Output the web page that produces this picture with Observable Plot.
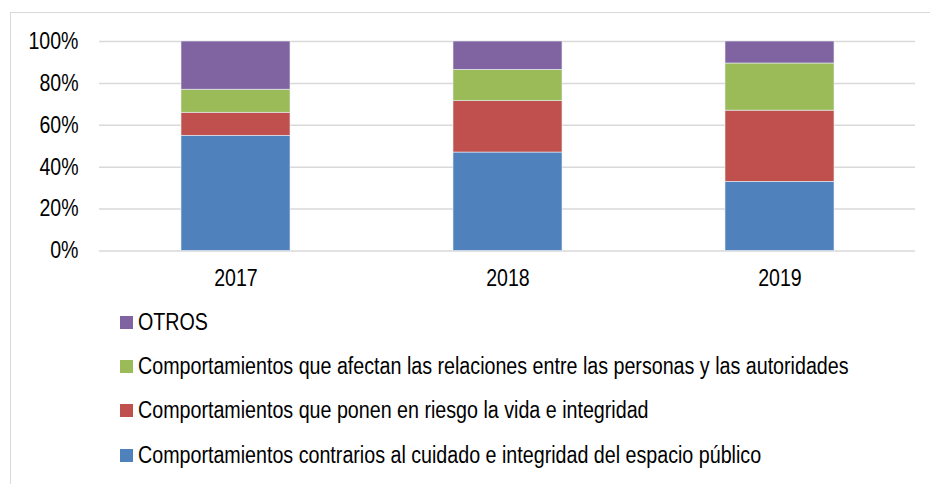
<!DOCTYPE html>
<html>
<head>
<meta charset="utf-8">
<script src="https://cdn.jsdelivr.net/npm/d3@7"></script>
<script src="https://cdn.jsdelivr.net/npm/@observablehq/plot@0.6"></script>
<style>
  html, body { margin: 0; padding: 0; background: #fff; }
  #wrap { position: relative; width: 930px; height: 484px; overflow: hidden; font-family: "Liberation Sans", Arial, sans-serif; }
  #frame { position: absolute; left: 10px; top: 12px; width: 940px; height: 490px; border: 1.5px solid #d9d9d9; box-sizing: border-box; }
  #chart { position: absolute; left: 0; top: 0; }
  #legend { position: absolute; left: 120px; top: 300px; font-size: 23px; color: #000; white-space: nowrap; }
  .item { display: flex; align-items: center; height: 44.4px; }
  .sw { width: 13px; height: 13px; margin-right: 5px; flex: none; }
  .lt { display: inline-block; transform: scaleX(0.855); transform-origin: left center; }
</style>
</head>
<body>
<div id="wrap">
  <div id="frame"></div>
  <div id="chart"></div>
  <div id="legend"></div>
</div>
<script>
const years = ["2017", "2018", "2019"];
const categories = [
  "Comportamientos contrarios al cuidado e integridad del espacio público",
  "Comportamientos que ponen en riesgo la vida e integridad",
  "Comportamientos que afectan las relaciones entre las personas y las autoridades",
  "OTROS"
];
const colors = ["#4f81bd", "#c0504d", "#9bbb59", "#8064a2"];
const espacioPublico = [55, 47, 33];
const riesgoVida = [11, 24.5, 34];
const relaciones = [11, 15, 22.5];
const otros = [23, 13.5, 10.5];
const yTicks = [0, 20, 40, 60, 80, 100];

const seriesValues = [espacioPublico, riesgoVida, relaciones, otros];
const rows = [];
categories.forEach((c, ci) => {
  years.forEach((y, yi) => rows.push({ year: y, cat: c, value: seriesValues[ci][yi] }));
});

const chart = Plot.plot({
  width: 930,
  height: 300,
  marginLeft: 99,
  marginRight: 15,
  marginTop: 41,
  marginBottom: 49.5,
  style: { fontFamily: "'Liberation Sans', Arial, sans-serif", fontSize: "23px", color: "#000", background: "transparent" },
  x: { domain: years, paddingInner: 0.6, paddingOuter: 0.3, label: null },
  y: { domain: [0, 100], label: null },
  color: { domain: categories, range: colors },
  marks: [
    Plot.ruleY(yTicks, { stroke: "#d9d9d9", strokeWidth: 1.5 }),
    Plot.barY(rows, Plot.stackY({ order: categories }, { x: "year", y: "value", fill: "cat", stroke: "#e8eef6", strokeWidth: 0.6 })),
    Plot.axisX({ tickSize: 0, tickPadding: 19, fontSize: 23 }),
    Plot.axisY({ ticks: yTicks, tickFormat: d => d + "%", tickSize: 0, tickPadding: 21, fontSize: 23 })
  ]
});
document.getElementById("chart").appendChild(chart);

// condense the tick labels horizontally (narrow face in the original)
d3.select(chart).selectAll("text").each(function () {
  const len = this.getComputedTextLength();
  if (len > 0) {
    this.setAttribute("textLength", (len * 0.85).toFixed(1));
    this.setAttribute("lengthAdjust", "spacingAndGlyphs");
  }
});

const legend = document.getElementById("legend");
[3, 2, 1, 0].forEach(i => {
  const div = document.createElement("div");
  div.className = "item";
  const sw = document.createElement("span");
  sw.className = "sw";
  sw.style.background = colors[i];
  const t = document.createElement("span");
  t.className = "lt";
  t.textContent = categories[i];
  div.appendChild(sw);
  div.appendChild(t);
  legend.appendChild(div);
});
</script>
</body>
</html>
